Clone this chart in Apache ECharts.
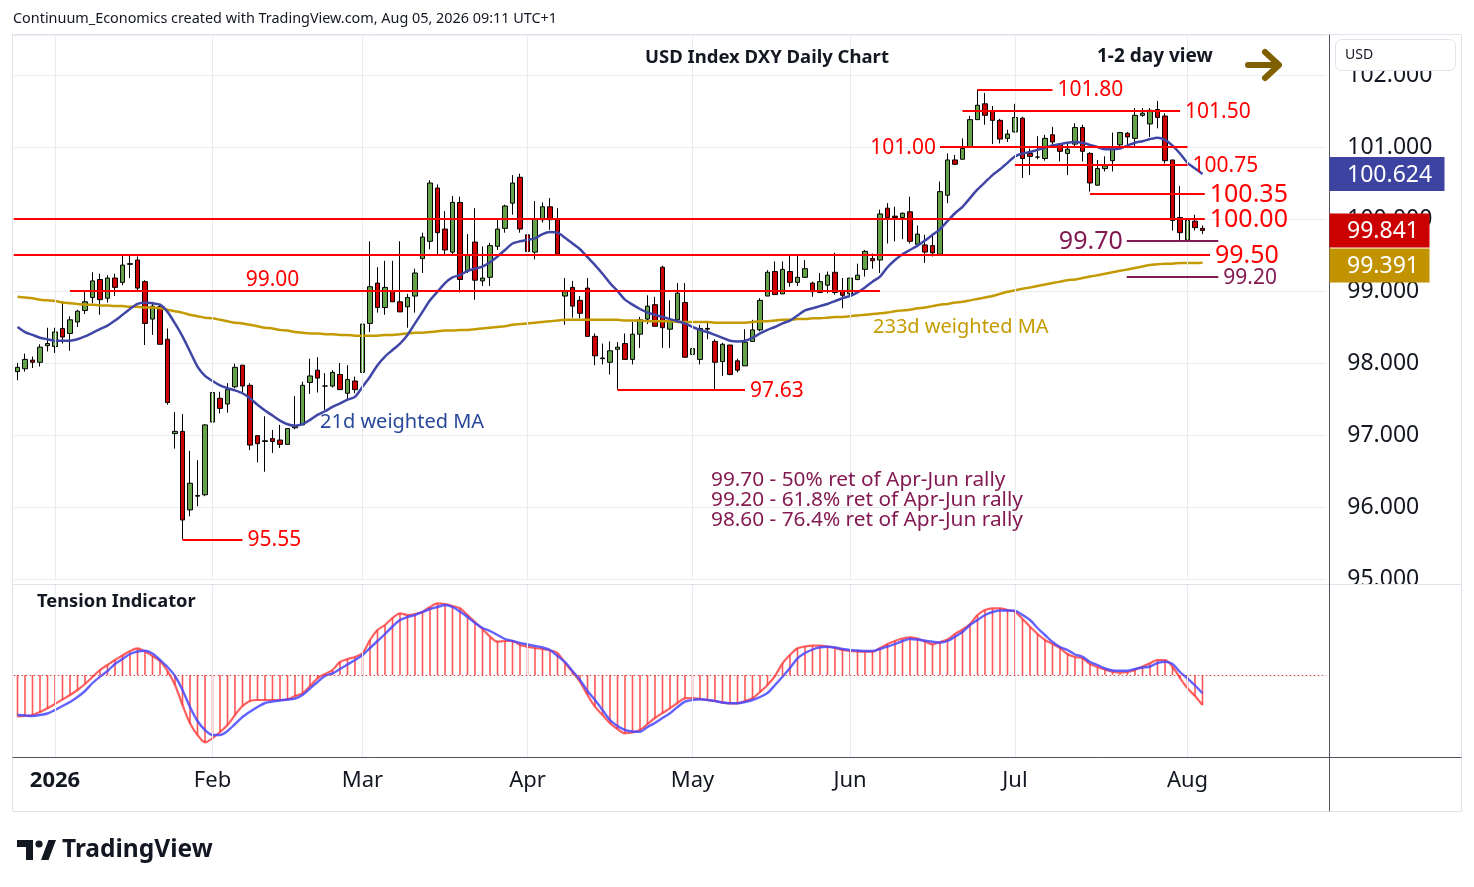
<!DOCTYPE html>
<html><head><meta charset="utf-8">
<script src="https://cdn.jsdelivr.net/npm/echarts@6/dist/echarts.min.js"></script>
<style>html,body{margin:0;padding:0;background:#fff;}#c{width:1474px;height:887px;}</style>
</head><body><div id="c"></div>
<script>
// ---------- DATA ----------
const holidays = ['2025-12-25', '2026-01-01'];
const dates = (function () {
  const out = []; const d = new Date(Date.UTC(2025, 11, 24)); const end = Date.UTC(2026, 7, 5);
  while (d.getTime() <= end) {
    const wd = d.getUTCDay(); const s = d.toISOString().slice(0, 10);
    if (wd !== 0 && wd !== 6 && holidays.indexOf(s) < 0) out.push(s);
    d.setUTCDate(d.getUTCDate() + 1);
  }
  return out;
})();
const monthNames = ['Jan','Feb','Mar','Apr','May','Jun','Jul','Aug','Sep','Oct','Nov','Dec'];

const opens = [97.88,97.92,98.04,98.01,98.24,98.23,98.48,98.41,98.57,98.73,
98.91,99.16,98.90,99.18,99.12,99.37,99.43,99.13,98.61,98.78,
98.33,97.02,97.05,95.96,96.15,96.17,97.18,97.51,97.43,97.67,
97.97,97.69,96.99,96.91,96.95,96.93,96.87,97.10,97.14,97.73,
97.90,97.68,97.68,97.84,97.58,97.75,97.87,98.55,99.11,98.77,
99.00,98.85,98.78,98.93,99.45,99.69,100.43,99.86,99.54,100.23,
99.28,99.68,99.14,99.19,99.62,99.87,100.22,100.58,99.78,99.54,
99.99,100.17,100.00,98.93,99.05,98.87,99.04,98.37,98.06,98.01,
98.19,98.27,98.05,98.40,98.61,98.81,99.33,98.47,98.60,98.84,
98.12,98.05,98.48,98.30,98.02,98.25,98.03,97.96,98.30,98.46,
98.93,99.27,98.96,99.27,99.12,99.19,99.11,98.98,99.08,99.26,
99.00,98.96,99.16,99.30,99.45,99.43,100.15,100.04,100.02,100.10,
99.65,99.64,99.63,99.51,100.33,100.82,100.83,101.00,101.38,101.60,
101.50,101.37,101.12,101.21,101.40,100.91,100.86,100.84,101.17,101.04,
100.91,101.04,101.27,100.91,100.47,100.70,100.81,101.03,101.19,101.12,
101.44,101.32,101.52,101.43,100.82,100.02,99.71,99.97,99.87];
const highs = [98.00,98.13,98.09,98.26,98.49,98.49,98.86,98.65,98.74,98.99,
99.26,99.24,99.22,99.24,99.50,99.50,99.48,99.15,98.85,98.81,
98.48,97.32,97.29,96.78,96.65,97.15,97.74,97.60,97.72,97.99,
97.97,97.72,97.00,97.26,97.07,97.14,97.09,97.54,97.74,98.06,
98.08,97.86,97.90,98.00,97.97,97.81,98.74,99.69,99.33,99.42,
99.42,99.69,98.96,99.31,99.81,100.54,100.48,100.11,100.32,100.31,
99.79,100.15,99.62,99.67,99.99,100.20,100.61,100.63,99.87,100.25,
100.23,100.29,100.15,99.18,99.14,98.93,99.18,98.41,98.27,98.30,
98.29,98.41,98.57,98.64,98.94,98.92,99.35,98.87,99.11,99.11,
98.24,98.53,98.57,98.33,98.28,98.25,98.06,98.47,98.60,98.90,
99.29,99.41,99.41,99.49,99.49,99.43,99.13,99.25,99.27,99.53,
99.18,99.18,99.38,99.57,99.52,100.13,100.22,100.17,100.09,100.31,
99.91,99.78,99.78,100.52,100.91,100.89,101.12,101.43,101.80,101.75,
101.57,101.39,101.24,101.60,101.42,100.98,101.15,101.17,101.28,101.05,
101.05,101.33,101.31,100.93,100.82,100.87,101.20,101.21,101.21,101.54,
101.54,101.54,101.64,101.47,100.82,100.46,99.99,100.06,99.91];
const lows = [97.76,97.88,97.93,97.95,98.16,98.14,98.27,98.17,98.50,98.68,
98.83,98.67,98.84,98.93,99.08,99.18,99.01,98.25,98.39,98.26,
97.42,96.81,95.55,95.87,96.01,96.15,97.00,97.30,97.31,97.65,
97.58,96.79,96.62,96.49,96.75,96.82,96.87,97.08,97.14,97.57,
97.59,97.35,97.66,97.63,97.50,97.58,97.76,98.43,98.70,98.67,
98.85,98.71,98.49,98.70,99.25,99.58,99.51,99.51,99.51,98.98,
99.25,98.88,99.07,99.07,99.57,99.81,100.06,99.81,99.29,99.44,
99.95,99.85,99.51,98.53,98.63,98.62,98.37,97.97,97.98,97.84,
97.63,98.05,97.98,98.21,98.54,98.51,98.21,98.21,98.58,98.08,
97.73,97.98,98.33,97.63,97.82,97.83,97.87,97.96,98.30,98.44,
98.93,98.95,98.96,99.06,99.07,99.18,98.92,98.98,98.97,98.95,
98.76,98.92,99.15,99.20,99.31,99.25,99.66,99.69,99.72,99.66,
99.65,99.39,99.48,99.51,100.22,100.75,100.83,101.00,101.38,101.31,
101.04,101.05,101.07,101.20,100.57,100.61,100.83,100.81,101.00,100.80,
100.61,101.00,100.80,100.38,100.46,100.66,100.66,101.00,101.03,101.00,
101.42,101.14,101.26,100.77,99.84,99.68,99.42,99.84,99.79];
const closes = [97.94,98.05,98.01,98.22,98.27,98.43,98.36,98.60,98.72,98.85,
99.14,98.88,99.18,99.05,99.36,99.38,99.04,98.55,98.79,98.26,
97.45,97.05,95.82,96.33,96.16,97.14,97.59,97.37,97.63,97.94,
97.68,96.86,96.88,96.92,96.91,96.87,97.09,97.12,97.69,97.82,
97.79,97.68,97.87,97.63,97.77,97.63,98.54,99.06,98.77,99.05,
98.85,98.71,98.91,99.25,99.75,100.50,99.81,99.57,100.23,99.16,
99.50,99.15,99.18,99.63,99.86,100.18,100.50,99.86,99.55,100.00,
100.17,99.99,99.51,98.99,98.79,98.69,98.37,98.10,98.07,98.17,
98.22,98.05,98.40,98.60,98.79,98.51,98.49,98.58,98.97,98.08,
98.20,98.48,98.47,98.01,98.26,97.84,97.90,98.29,98.46,98.87,
99.26,98.95,99.30,99.12,99.19,99.31,98.99,99.13,99.22,98.98,
98.94,99.18,99.22,99.55,99.42,100.07,100.02,100.02,100.08,99.69,
99.79,99.54,99.53,100.38,100.82,100.76,100.98,101.38,101.58,101.44,
101.37,101.11,101.18,101.41,100.84,100.87,100.86,101.12,101.07,100.94,
100.97,101.27,100.94,100.50,100.70,100.74,101.00,101.20,101.14,101.44,
101.47,101.51,101.41,100.81,99.98,99.81,99.98,99.88,99.841];

const wma21 = [98.50,98.43,98.39,98.35,98.33,98.31,98.31,98.31,98.33,98.37,
98.42,98.47,98.52,98.59,98.67,98.75,98.82,98.84,98.83,98.81,
98.71,98.55,98.37,98.16,97.95,97.82,97.75,97.69,97.65,97.62,
97.58,97.51,97.42,97.34,97.27,97.20,97.15,97.13,97.15,97.21,
97.28,97.33,97.39,97.44,97.49,97.53,97.67,97.81,97.97,98.09,
98.18,98.27,98.39,98.55,98.71,98.87,98.99,99.11,99.19,99.22,
99.28,99.31,99.34,99.40,99.48,99.57,99.66,99.69,99.71,99.73,
99.79,99.82,99.81,99.74,99.66,99.58,99.47,99.36,99.24,99.11,
99.00,98.88,98.81,98.75,98.70,98.67,98.64,98.61,98.58,98.55,
98.50,98.46,98.43,98.39,98.35,98.31,98.30,98.31,98.35,98.41,
98.46,98.50,98.55,98.59,98.66,98.73,98.76,98.79,98.82,98.86,
98.90,98.93,98.98,99.05,99.13,99.20,99.33,99.43,99.51,99.57,
99.63,99.70,99.78,99.86,99.97,100.08,100.17,100.29,100.41,100.51,
100.61,100.69,100.78,100.87,100.91,100.93,100.96,100.99,101.02,101.04,
101.06,101.07,101.06,101.03,101.00,100.97,100.97,100.98,101.02,101.06,
101.08,101.11,101.13,101.10,101.02,100.91,100.78,100.70,100.624];
const wma233 = [98.92,98.91,98.90,98.88,98.87,98.86,98.84,98.83,98.82,98.81,
98.81,98.80,98.80,98.79,98.79,98.78,98.78,98.77,98.77,98.76,
98.74,98.72,98.70,98.67,98.65,98.63,98.62,98.60,98.58,98.56,
98.55,98.53,98.51,98.49,98.48,98.46,98.45,98.43,98.42,98.41,
98.41,98.40,98.40,98.39,98.39,98.38,98.38,98.38,98.38,98.39,
98.39,98.40,98.41,98.42,98.42,98.43,98.44,98.45,98.45,98.46,
98.46,98.47,98.48,98.49,98.50,98.51,98.53,98.54,98.55,98.56,
98.57,98.58,98.59,98.60,98.60,98.60,98.60,98.60,98.60,98.60,
98.60,98.59,98.59,98.59,98.58,98.58,98.58,98.58,98.57,98.57,
98.57,98.57,98.57,98.56,98.56,98.56,98.56,98.56,98.57,98.58,
98.58,98.59,98.60,98.60,98.61,98.61,98.62,98.62,98.63,98.64,
98.64,98.65,98.66,98.67,98.68,98.69,98.70,98.72,98.73,98.74,
98.76,98.77,98.79,98.81,98.82,98.84,98.85,98.87,98.89,98.91,
98.93,98.96,98.99,99.01,99.03,99.05,99.07,99.09,99.11,99.13,
99.15,99.16,99.18,99.20,99.22,99.24,99.26,99.28,99.30,99.32,
99.34,99.36,99.37,99.38,99.38,99.39,99.39,99.39,99.391];

const tensionRed = [-41.5,-41,-40,-37,-33.3,-29,-24.5,-20,-15,-9,
-2,5,10,15,19.5,24,26.7,23.5,19,14,
4,-10,-30,-48.3,-60,-67.3,-63.3,-57,-50,-40,
-31,-26,-25,-25,-25,-25,-24.5,-21,-18.3,-11,
-3.3,1,5,13,16,18,21.7,35,45,50,
57,61.7,60,61,63.3,68,71.7,71,69,66.7,
60,53,46,38.3,33.3,34,34,30,28.3,27,
26,24.5,22,12,3,-7,-20,-31.7,-40,-48.3,
-54,-58.3,-57.5,-55,-49,-43,-38,-33.3,-28,-23.3,
-23,-24,-25,-26,-27.7,-28.3,-28.3,-26,-23.3,-17,
-10,-1,11.7,20,26.7,28.5,29.3,29.3,28.5,27,
25,24,23.5,23.3,23.3,27,31,34,36.5,37.7,
36.5,33.5,30.7,33,35.5,41,45.5,51,60,65,
66.7,66.7,65,63.3,56,48.3,41,35,31,27,
21,18,16.7,11,8,5.5,3.3,2.3,3,5,
8.5,11.7,15,15,8.3,-3,-13.3,-21,-30];
const tensionBlue = [-40,-40.5,-41,-40,-38.5,-35,-31,-27,-22,-16,
-8,-1.7,4,11,16,21,23.5,24.3,21.5,15,
8,-1,-15,-32,-46,-55,-60,-60,-56,-49,
-42,-36.7,-32,-28,-26.5,-25.5,-24.5,-23.5,-20,-13.5,
-7,-1,1.7,6,10.5,15,20,27,34,41,
48.5,55,58,60,63,66,68,70,68,63.5,
58,52,47,44,40,36,34,32,30.5,29,
27.5,25,19,13,4,-5,-16,-25,-35,-45,
-51,-55,-56.5,-56.7,-52,-48,-43,-38.3,-32,-26.7,
-25,-24.3,-25,-26,-27.5,-28.3,-28.3,-27,-25,-22,
-18,-10,-1.7,7,16.7,22,25.5,27.7,28.3,27.5,
26,25,24.5,24,24,26,28.3,31,34,36,
35.5,34.3,33.3,32.5,34,38.3,43,50,55,60,
63,64.5,64.5,64.3,60,55,47,40,33,28,
25,20.5,18.3,13,10,6.5,4.5,4.3,4.3,6,
7.5,8.5,12,13.3,11,3,-3.3,-10.5,-18.3];

const priceTicks = [95, 96, 97, 98, 99, 100, 101, 102];
const levelPrices = [101.80, 101.50, 101.00, 100.75, 100.35, 100.00, 99.70, 99.50, 99.20, 99.00, 97.63, 95.55];
const levelLabels = ['101.80','101.50','101.00','100.75','100.35','100.00','99.70','99.50','99.20','99.00','97.63','95.55'];
const levelKind = ['res','res','res','res','res','res','ret','res','ret','res','res','res'];
const retNotes = ['99.70 - 50% ret of Apr-Jun rally', '99.20 - 61.8% ret of Apr-Jun rally', '98.60 - 76.4% ret of Apr-Jun rally'];

// ---------- LAYOUT (positions / styles) ----------
const levelSpan = [[128,138],[126,155],[123,156],[133,156],[143,158.3],[-0.5,158.3],[147.9,160.1],[-0.5,159],[147.9,160.1],[7,115],[80,97],[22,30]];
const levelLabelPos = ['end','end','start','end','end','end','start','end','end','above','end','end'];
const levelFont = [21,21,21,21,25,25,25,25,21,21,21,21];
const RED = '#ff0000', PURPLE = '#841a52', UP = '#63a246', DOWN = '#cc0000';
const FONT = 'Noto Sans';

const N = 175;
const categories = dates.slice();
for (let k = 0; categories.length < N; k++) categories.push('pad' + k);
const monthStarts = [];
for (let i = 1; i < dates.length; i++) if (dates[i].slice(5, 7) !== dates[i - 1].slice(5, 7)) monthStarts.push(i);
const monthSet = new Set(monthStarts);

const ohlc = opens.map((o, i) => [o, closes[i], lows[i], highs[i]]);

const GL = 13.75, GW = 1312.5;
const gridLine = '#e8ecf1';

const levelMarks = levelPrices.map((p, k) => {
  const c = levelKind[k] === 'ret' ? PURPLE : RED;
  const ls = { color: c, width: 2, type: 'solid' };
  return [{ coord: [levelSpan[k][0], p], lineStyle: ls }, { coord: [levelSpan[k][1], p], lineStyle: ls }];
});

const option = {
  animation: false,
  backgroundColor: '#ffffff',
  grid: [
    { left: GL, top: 35, width: GW, height: 544, outerBoundsMode: 'none', containLabel: false },
    { left: GL, top: 585, width: GW, height: 172, outerBoundsMode: 'none', containLabel: false }
  ],
  xAxis: [
    { type: 'category', gridIndex: 0, data: categories, boundaryGap: true,
      axisLabel: { show: false }, axisTick: { show: false }, axisLine: { show: false }, splitLine: { show: false } },
    { type: 'value', gridIndex: 0, min: -0.5, max: N - 0.5, show: false, splitLine: { show: false } },
    { type: 'category', gridIndex: 1, data: categories, boundaryGap: true,
      axisTick: { show: false }, axisLine: { show: false }, splitLine: { show: false },
      axisLabel: {
        show: true, interval: (idx) => monthSet.has(idx), margin: 13,
        color: '#131722', fontSize: 22, fontFamily: FONT,
        formatter: (v, idx) => {
          const m = parseInt(String(v).slice(5, 7), 10);
          if (m === 1) return '{b|' + String(v).slice(0, 4) + '}';
          return monthNames[m - 1] || '';
        },
        rich: { b: { fontWeight: 'bold', fontSize: 22, fontFamily: FONT, color: '#131722' } }
      } },
    { type: 'value', gridIndex: 1, min: -0.5, max: N - 0.5, show: false, splitLine: { show: false } }
  ],
  yAxis: [
    { type: 'value', gridIndex: 0, position: 'right', offset: 3, min: priceTicks[0], max: 100 + 184 / 72, interval: 1,
      axisLine: { show: false }, axisTick: { show: false },
      splitLine: { show: true, lineStyle: { color: gridLine, width: 1 } },
      axisLabel: { show: true, showMaxLabel: false, margin: 18, color: '#131722', fontSize: 23, fontFamily: FONT,
        formatter: (v) => v.toFixed(3) } },
    { type: 'value', gridIndex: 1, min: -82, max: 90, show: false, splitLine: { show: false } }
  ],
  series: [
    { type: 'line', xAxisIndex: 1, yAxisIndex: 0, data: [[-5, 98]], symbol: 'none', lineStyle: { opacity: 0 }, z: 1, silent: true,
      markLine: { silent: true, symbol: ['none', 'none'], label: { show: false }, animation: false,
        lineStyle: { color: gridLine, width: 1, type: 'solid' },
        data: monthStarts.map(i => ({ xAxis: i })) } },
    { type: 'candlestick', xAxisIndex: 0, yAxisIndex: 0, data: ohlc, barWidth: 5, z: 3,
      itemStyle: { color: UP, color0: DOWN, borderColor: '#000', borderColor0: '#000', borderColorDoji: '#000', borderWidth: 1 } },
    { type: 'line', xAxisIndex: 0, yAxisIndex: 0, data: wma233, symbol: 'none', smooth: 0.25, z: 4,
      lineStyle: { color: '#c39a00', width: 2.5 } },
    { type: 'line', xAxisIndex: 0, yAxisIndex: 0, data: wma21, symbol: 'none', smooth: 0.25, z: 4,
      lineStyle: { color: '#3f46a6', width: 2.5 } },
    { type: 'line', xAxisIndex: 1, yAxisIndex: 0, data: [[-5, 98]], symbol: 'none', lineStyle: { opacity: 0 }, z: 6, silent: true,
      markLine: { silent: true, symbol: ['none', 'none'], label: { show: false }, animation: false, data: levelMarks } },
    // tension pane
    { type: 'line', xAxisIndex: 3, yAxisIndex: 1, data: [[-5, 0]], symbol: 'none', lineStyle: { opacity: 0 }, z: 1, silent: true,
      markLine: { silent: true, symbol: ['none', 'none'], label: { show: false }, animation: false,
        lineStyle: { color: gridLine, width: 1, type: 'solid' },
        data: monthStarts.map(i => ({ xAxis: i })).concat([{ yAxis: 0, lineStyle: { color: '#d23c3c', width: 1, type: [1.5, 2.5] } }]) } },
    { type: 'bar', xAxisIndex: 2, yAxisIndex: 1, data: tensionRed, barWidth: 1.6, z: 2,
      itemStyle: { color: 'rgba(255,45,45,0.8)' } },
    { type: 'line', xAxisIndex: 2, yAxisIndex: 1, data: tensionRed, symbol: 'none', smooth: 0.3, z: 3,
      lineStyle: { color: 'rgba(255,55,55,0.8)', width: 2.2 } },
    { type: 'line', xAxisIndex: 2, yAxisIndex: 1, data: tensionBlue, symbol: 'none', smooth: 0.3, z: 4,
      lineStyle: { color: 'rgba(70,70,255,0.85)', width: 2.4 } }
  ]
};

const chart = echarts.init(document.getElementById('c'));
chart.setOption(option);

// ---------- annotations (placed through the chart's own scales) ----------
const px = (i, p) => chart.convertToPixel({ xAxisIndex: 1, yAxisIndex: 0 }, [i, p]);
const G = [];
function txt(x, y, text, st) {
  G.push({ type: 'text', x: x, y: y, z: 100, silent: true,
    style: Object.assign({ text: text, fill: '#131722', fontFamily: FONT, fontSize: 14, align: 'left', verticalAlign: 'middle' }, st || {}) });
}
function ln(x1, y1, x2, y2, stroke, w, z) {
  G.push({ type: 'line', z: z || 90, silent: true, shape: { x1, y1, x2, y2 }, style: { stroke: stroke, lineWidth: w, lineCap: 'round' } });
}

// level labels
levelPrices.forEach((p, k) => {
  const c = levelKind[k] === 'ret' ? PURPLE : RED;
  const pos = levelLabelPos[k];
  if (pos === 'end') {
    const q = px(levelSpan[k][1], p); txt(q[0] + 5, q[1] + 1, levelLabels[k], { fill: c, fontSize: levelFont[k] });
  } else if (pos === 'start') {
    const q = px(levelSpan[k][0], p); txt(q[0] - 4, q[1] + 1, levelLabels[k], { fill: c, fontSize: levelFont[k], align: 'right' });
  } else {
    const q = px(34, p); txt(q[0], q[1] - 11, levelLabels[k], { fill: c, fontSize: levelFont[k], align: 'center' });
  }
});

// free texts
txt(13, 19, 'Continuum_Economics created with TradingView.com, Aug 05, 2026 09:11 UTC+1', { fontSize: 14.4 });
txt(645, 58, 'USD Index DXY Daily Chart', { fontSize: 18.5, fontWeight: 'bold' });
txt(1097, 57, '1-2 day view', { fontSize: 19, fontWeight: 'bold' });
txt(37, 602, 'Tension Indicator', { fontSize: 18.3, fontWeight: 'bold' });
txt(320, 422, '21d weighted MA', { fontSize: 20, fill: '#27489a' });
txt(873, 327, '233d weighted MA', { fontSize: 20, fill: '#c49c00' });
retNotes.forEach((t, k) => txt(711, 480 + 20 * k, t, { fontSize: 20.8, fill: PURPLE }));

// arrow
ln(1248, 65, 1278, 65, '#7f6000', 6, 100);
G.push({ type: 'polyline', z: 100, silent: true, shape: { points: [[1265, 52], [1279, 65], [1265, 78]] },
  style: { stroke: '#7f6000', lineWidth: 6, fill: 'none', lineCap: 'round', lineJoin: 'round' } });

// frame
G.push({ type: 'rect', z: 95, silent: true, shape: { x: 1330, y: 585, width: 131, height: 172 }, style: { fill: '#fff' } });
G.push({ type: 'rect', z: 96, silent: true, shape: { x: 12.5, y: 34.5, width: 1449, height: 777 }, style: { fill: 'none', stroke: '#e0e3eb', lineWidth: 1 } });
ln(13, 584.5, 1461, 584.5, '#e0e3eb', 1, 96);
ln(13, 757.5, 1461, 757.5, '#50535e', 1, 97);
ln(1329.5, 35, 1329.5, 811, '#50535e', 1, 97);

// USD box
G.push({ type: 'rect', z: 98, silent: true, shape: { x: 1335.5, y: 39.5, width: 120, height: 31, r: 6 }, style: { fill: '#fff', stroke: '#e0e3eb', lineWidth: 1 } });
txt(1345, 55, 'USD', { fontSize: 14 });

// price tags
const last = dates.length - 1;
const tags = [
  { v: wma21[last], color: '#3c43a1', w: 115 },
  { v: closes[last], color: '#cc0000', w: 100 },
  { v: wma233[last], color: '#c29300', w: 100 }
];
let prevBottom = -1e9;
tags.forEach((t, k) => {
  let y = px(last, t.v)[1];
  if (k === 2) y = Math.max(y, prevBottom + 18);
  G.push({ type: 'rect', z: 99, silent: true, shape: { x: 1329.5, y: y - 17, width: t.w, height: 34 }, style: { fill: t.color } });
  txt(1347, y + 1, t.v.toFixed(3), { fontSize: 23, fill: '#fff' });
  prevBottom = y + 17;
});

// TradingView logo
G.push({ type: 'rect', z: 100, silent: true, shape: { x: 17, y: 840, width: 16, height: 7 }, style: { fill: '#131722' } });
G.push({ type: 'rect', z: 100, silent: true, shape: { x: 26, y: 840, width: 7, height: 20 }, style: { fill: '#131722' } });
G.push({ type: 'circle', z: 100, silent: true, shape: { cx: 39, cy: 844, r: 3.6 }, style: { fill: '#131722' } });
G.push({ type: 'polygon', z: 100, silent: true, shape: { points: [[41, 860], [48.5, 860], [56, 840], [48.5, 840]] }, style: { fill: '#131722' } });
txt(62, 850, 'TradingView', { fontSize: 24.5, fontWeight: 'bold' });

chart.setOption({ graphic: { elements: G } });
</script></body></html>
